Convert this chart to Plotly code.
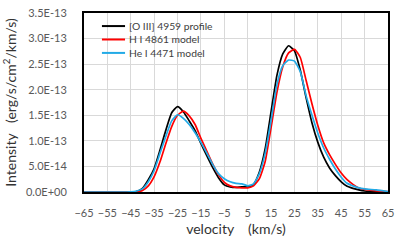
import plotly.graph_objects as go

velocity = [-65, -60, -55, -50, -45, -42.5, -40, -37.5, -35, -32.5, -30, -27.5, -25, -22.5, -20,
            -17.5, -15, -12.5, -10, -7.5, -5, -2.5, 0, 2.5, 5, 7.5, 10, 12.5, 15, 17.5, 20,
            22.5, 25, 27.5, 30, 32.5, 35, 37.5, 40, 42.5, 45, 47.5, 50, 52.5, 55, 60, 65]

# intensities in units of 1e-13 erg/s/cm2/km/s
oiii_4959 = [0, 0, 0, 0, 0, 0.01, 0.07, 0.24, 0.46, 0.82, 1.21, 1.55, 1.67, 1.57, 1.39,
             1.20, 0.95, 0.71, 0.48, 0.28, 0.14, 0.10, 0.09, 0.10, 0.10, 0.15, 0.39, 0.85, 1.57, 2.28, 2.70,
             2.86, 2.76, 2.38, 1.84, 1.35, 0.97, 0.68, 0.47, 0.32, 0.20, 0.11, 0.07, 0.04, 0.02, 0.005, 0]
hi_4861 = [0, 0, 0, 0, 0, 0, 0.03, 0.12, 0.30, 0.59, 0.95, 1.28, 1.50, 1.58, 1.49,
           1.32, 1.05, 0.80, 0.55, 0.34, 0.19, 0.12, 0.09, 0.08, 0.08, 0.12, 0.26, 0.60, 1.26, 1.95, 2.45,
           2.72, 2.79, 2.63, 2.18, 1.72, 1.30, 0.96, 0.73, 0.54, 0.37, 0.24, 0.15, 0.08, 0.05, 0.02, 0.01]
hei_4471 = [0, 0, 0, 0, 0.005, 0.02, 0.06, 0.20, 0.42, 0.76, 1.09, 1.39, 1.51, 1.44, 1.32,
            1.16, 0.97, 0.76, 0.54, 0.36, 0.26, 0.20, 0.17, 0.16, 0.12, 0.16, 0.36, 0.76, 1.40, 2.10, 2.47,
            2.58, 2.56, 2.35, 1.88, 1.50, 1.15, 0.86, 0.64, 0.45, 0.29, 0.17, 0.12, 0.08, 0.06, 0.04, 0.01]

series_names = ["[O III] 4959 profile", "H I 4861 model", "He I 4471 model"]
series_colors = ["#000000", "#ff0000", "#22aae6"]

x_ticks = list(range(-65, 66, 10))
y_tickvals = [0, 0.5, 1.0, 1.5, 2.0, 2.5, 3.0, 3.5]
y_ticktext = ["0.0E+00", "5.0E-14", "1.0E-13", "1.5E-13", "2.0E-13", "2.5E-13", "3.0E-13", "3.5E-13"]

FONT = "Lato, 'Open Sans', sans-serif"
NB = "\u00a0"

fig = go.Figure()
for name, ys, col in zip(series_names, [oiii_4959, hi_4861, hei_4471], series_colors):
    fig.add_trace(go.Scatter(x=velocity, y=ys, name=name, mode="lines", showlegend=False,
                             line=dict(color=col, width=1.7, shape="spline", smoothing=0.5)))

# compact legend (inside plot, top-left) built from the series names/colours
leg_y = [0.927, 0.852, 0.777]
for name, col, yy in zip(series_names, series_colors, leg_y):
    fig.add_shape(type="line", xref="paper", yref="paper", x0=0.059, x1=0.135, y0=yy, y1=yy,
                  line=dict(color=col, width=2))
    fig.add_annotation(xref="paper", yref="paper", x=0.14, y=yy, text=name, showarrow=False,
                       xanchor="left", yanchor="middle",
                       font=dict(family=FONT, size=10.3, color="#404040"))

fig.update_layout(
    width=407, height=244,
    margin=dict(l=84, r=19, t=13, b=52),
    paper_bgcolor="white", plot_bgcolor="white",
    font=dict(family=FONT, size=11, color="#595959"),
    showlegend=False,
    xaxis=dict(range=[-65, 65], tickvals=x_ticks, showgrid=True, gridcolor="#d9d9d9", gridwidth=1,
               showline=True, linecolor="black", linewidth=2, mirror=True, zeroline=False,
               ticks="", ticklabelstandoff=10, automargin=False,
               title=dict(text="velocity" + NB * 4 + "(km/s)", font=dict(size=14, color="#333333"),
                          standoff=6)),
    yaxis=dict(range=[0, 3.5], tickvals=y_tickvals, ticktext=y_ticktext, showgrid=True,
               gridcolor="#d9d9d9", gridwidth=1, showline=True, linecolor="black", linewidth=2,
               mirror=True, zeroline=False, ticks="", ticklabelstandoff=13, automargin=False,
               title=dict(text="Intensity" + NB * 3 + "(erg/s/cm<sup>2</sup>/km/s)",
                          font=dict(size=14, color="#333333"), standoff=6)),
)

fig.write_html("out.html", config={"displayModeBar": False},
               post_script="document.body.style.margin='0px';document.body.style.overflow='hidden';")
